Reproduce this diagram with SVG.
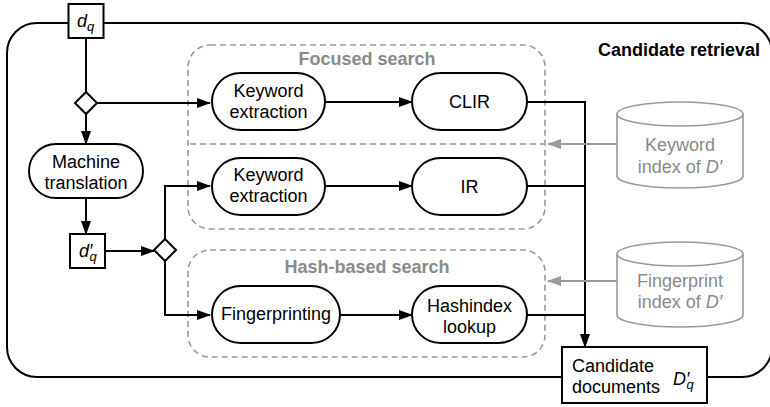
<svg xmlns="http://www.w3.org/2000/svg" width="770" height="407" viewBox="0 0 770 407">
<defs>
<style>
text{font-family:"Liberation Sans",Arial,sans-serif;font-size:18px;fill:#000}
.c{text-anchor:middle}
.b{font-weight:bold}
.g{fill:#8a8a8a}
.i{font-style:italic}
.node{fill:#fff;stroke:#000;stroke-width:2}
.grp{fill:none;stroke:#999;stroke-width:1.6;stroke-dasharray:6 4}
.cyl{fill:#fff;stroke:#999;stroke-width:1.6}
.ln{fill:none;stroke:#000;stroke-width:2}
.gl{fill:none;stroke:#999;stroke-width:2}
</style>
<marker id="ah" markerUnits="userSpaceOnUse" markerWidth="14" markerHeight="10" refX="13" refY="5" orient="auto">
<path d="M0,0 L14,5 L0,10 z" fill="#000"/>
</marker>
<marker id="ahg" markerUnits="userSpaceOnUse" markerWidth="14" markerHeight="10" refX="13" refY="5" orient="auto">
<path d="M0,0 L14,5 L0,10 z" fill="#999"/>
</marker>
</defs>
<rect width="770" height="407" fill="#fff"/>

<g id="candidate-retrieval">
<rect x="7" y="23" width="765" height="354" rx="30" ry="30" fill="none" stroke="#000" stroke-width="2"/>
<text class="b" x="760" y="56" text-anchor="end">Candidate retrieval</text>
</g>

<g id="focused-search">
<rect class="grp" x="188" y="45" width="357" height="184" rx="22"/>
<line class="grp" x1="190" y1="144" x2="545" y2="144"/>
<text class="b g c" x="367" y="65">Focused search</text>
</g>

<g id="hash-based-search">
<rect class="grp" x="188" y="250" width="357" height="107" rx="22"/>
<text class="b g c" x="367" y="273">Hash-based search</text>
</g>

<g id="connectors">
<path class="ln" d="M86,38 V92"/>
<path class="ln" d="M97,103 H210" marker-end="url(#ah)"/>
<path class="ln" d="M86,114 V144" marker-end="url(#ah)"/>
<path class="ln" d="M86,198 V234" marker-end="url(#ah)"/>
<path class="ln" d="M105,251 H154" marker-end="url(#ah)"/>
<path class="ln" d="M165,239 V186 H210" marker-end="url(#ah)"/>
<path class="ln" d="M165,261 V315 H210" marker-end="url(#ah)"/>
<path class="ln" d="M325,102 H412" marker-end="url(#ah)"/>
<path class="ln" d="M325,186 H412" marker-end="url(#ah)"/>
<path class="ln" d="M340,315 H412" marker-end="url(#ah)"/>
<path class="ln" d="M527,102 H585 V347" marker-end="url(#ah)"/>
<path class="ln" d="M527,186 H585"/>
<path class="ln" d="M527,315 H585"/>
<path class="gl" d="M617,144 H548" marker-end="url(#ahg)"/>
<path class="gl" d="M617,281 H548" marker-end="url(#ahg)"/>
</g>

<g id="dq">
<rect class="node" x="68.5" y="4" width="35" height="34"/>
<text x="77" y="27" class="i">d<tspan font-size="13" dy="4">q</tspan></text>
</g>

<g id="split1">
<path class="node" d="M86,92 L97,103 L86,114 L75,103 z"/>
</g>

<g id="machine-translation">
<rect class="node" x="29" y="144" width="114" height="54" rx="27"/>
<text class="c" x="86" y="168">Machine</text>
<text class="c" x="86" y="189">translation</text>
</g>

<g id="dq-prime">
<rect class="node" x="70" y="234" width="35" height="34"/>
<text x="79" y="257" class="i">d′<tspan font-size="13" dx="-3" dy="4">q</tspan></text>
</g>

<g id="split2">
<path class="node" d="M165,239 L176,250 L165,261 L154,250 z"/>
</g>

<g id="keyword-extraction-1">
<rect class="node" x="212" y="73" width="113" height="57" rx="28.5"/>
<text class="c" x="268.5" y="97">Keyword</text>
<text class="c" x="268.5" y="118">extraction</text>
</g>

<g id="clir">
<rect class="node" x="412" y="73" width="115" height="57" rx="28.5"/>
<text class="c" x="469.5" y="108">CLIR</text>
</g>

<g id="keyword-extraction-2">
<rect class="node" x="212" y="158" width="113" height="57" rx="28.5"/>
<text class="c" x="268.5" y="181">Keyword</text>
<text class="c" x="268.5" y="202">extraction</text>
</g>

<g id="ir">
<rect class="node" x="412" y="158" width="115" height="57" rx="28.5"/>
<text class="c" x="469.5" y="193">IR</text>
</g>

<g id="fingerprinting">
<rect class="node" x="212" y="286" width="128" height="57" rx="28.5"/>
<text class="c" x="276" y="320">Fingerprinting</text>
</g>

<g id="hashindex-lookup">
<rect class="node" x="412" y="286" width="115" height="57" rx="28.5"/>
<text class="c" x="469.5" y="312">Hashindex</text>
<text class="c" x="469.5" y="333">lookup</text>
</g>

<g id="keyword-index">
<path class="cyl" d="M617,114 V176 A63,12 0 0 0 743,176 V114"/>
<ellipse class="cyl" cx="680" cy="114" rx="63" ry="12"/>
<text class="c g" x="680" y="151">Keyword</text>
<text class="c g" x="680" y="173">index of <tspan class="i">D′</tspan></text>
</g>

<g id="fingerprint-index">
<path class="cyl" d="M617,254 V315 A63,12 0 0 0 743,315 V254"/>
<ellipse class="cyl" cx="680" cy="254" rx="63" ry="12"/>
<text class="c g" x="680" y="287">Fingerprint</text>
<text class="c g" x="680" y="308">index of <tspan class="i">D′</tspan></text>
</g>

<g id="candidate-documents">
<rect class="node" x="562" y="347" width="145" height="56"/>
<text x="572" y="372">Candidate</text>
<text x="572" y="393">documents</text>
<text x="673" y="385" class="i">D′<tspan font-size="13" dx="-3" dy="4">q</tspan></text>
</g>
</svg>
